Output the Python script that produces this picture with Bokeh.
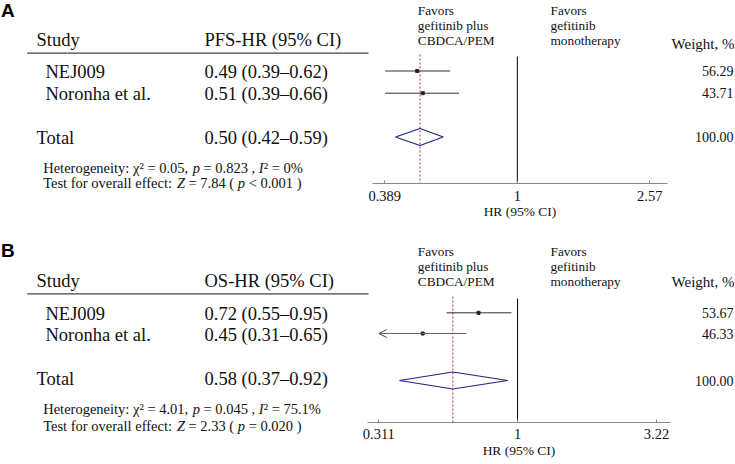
import math
from bokeh.plotting import figure
from bokeh.layouts import column
from bokeh.models import (Range1d, LogScale, LogAxis, FixedTicker,
                          CustomJSTickFormatter, ColumnDataSource, Arrow, OpenHead)
from bokeh.core.properties import value
from bokeh.embed import file_html
from bokeh.resources import INLINE

# ---------------- data ----------------
studies = ["NEJ009", "Noronha et al."]
total_label = "Total"

pfs_hr = [0.49, 0.51]
pfs_lo = [0.39, 0.39]
pfs_hi = [0.62, 0.66]
pfs_weight = [56.29, 43.71]
pfs_total = [0.50, 0.42, 0.59]
pfs_ticks = [0.389, 1, 2.57]
pfs_het = ["0.05", "0.823", "0%"]
pfs_test = ["7.84", "<", "0.001"]

os_hr = [0.72, 0.45]
os_lo = [0.55, 0.31]
os_hi = [0.95, 0.65]
os_weight = [53.67, 46.33]
os_total = [0.58, 0.37, 0.92]
os_ticks = [0.311, 1, 3.22]
os_het = ["4.01", "0.045", "75.1%"]
os_test = ["2.33", "=", "0.020"]

# ---------------- layout / style ----------------
SERIF = "Liberation Serif"
SANS = "Liberation Sans"
W = 735

ADV = {' ': 250, '(': 333, ')': 333, ',': 250, '-': 333, '.': 250, '/': 278, ':': 278,
       '<': 564, '=': 564, '%': 833, '\u00b2': 300, '\u03c7': 500,
       'a': 444, 'c': 444, 'e': 444, 'f': 333, 'g': 500, 'i': 278, 'l': 278, 'n': 500,
       'o': 500, 'r': 333, 's': 389, 't': 278, 'v': 500, 'y': 500, 'H': 722, 'T': 611}
for d in "0123456789":
    ADV[d] = 500
ITAL = {'p': 500, 'I': 333, 'Z': 556}


def tw(s, size, italic=False):
    tab = ITAL if italic else ADV
    return sum(tab.get(ch, ADV.get(ch, 500)) for ch in s) / 1000.0 * size


def fmt_ci(h, l, u):
    return f"{h:.2f} ({l:.2f}\u2013{u:.2f})"


def panel(letter, measure, hr, lo, hi, weight, tot, ticks, het, test, L):
    top, h = L["top"], L["h"]
    tmin, tmax = min(ticks), max(ticks)
    tick_px = L["tick_px"]
    ppl = (tick_px[1] - tick_px[0]) / (math.log(tmax) - math.log(tmin))
    x_one = tick_px[0] - math.log(tmin) * ppl

    def to_val(px):
        return math.exp((px - x_one) / ppl)

    p = figure(width=W, height=h, x_range=Range1d(0, W), y_range=Range1d(top + h, top),
               output_backend="svg", toolbar_location=None, x_axis_location=None,
               y_axis_location=None, min_border=0)
    p.xgrid.grid_line_color = None
    p.ygrid.grid_line_color = None
    p.outline_line_color = None
    p.background_fill_color = "white"
    p.border_fill_color = "white"
    p.extra_x_ranges = {"hr": Range1d(to_val(0), to_val(W))}
    p.extra_x_scales = {"hr": LogScale()}

    axis_y = L["axis_y"]
    bpx = L["bound_px"]
    ax = LogAxis(x_range_name="hr", ticker=FixedTicker(ticks=ticks),
                 formatter=CustomJSTickFormatter(code="return tick.toString()"),
                 bounds=(to_val(bpx[0]), to_val(bpx[1])), axis_label="HR (95% CI)",
                 fixed_location=axis_y)
    ax.axis_line_color = "#8a8a8a"
    ax.major_tick_line_color = "#8a8a8a"
    ax.major_tick_in = 3
    ax.major_tick_out = 0
    ax.minor_tick_line_color = None
    ax.major_label_text_font = SERIF
    ax.major_label_text_font_size = "14.5px"
    ax.major_label_text_color = "#111"
    ax.major_label_standoff = 7
    ax.axis_label_text_font = SERIF
    ax.axis_label_text_font_size = "13.5px"
    ax.axis_label_text_font_style = "normal"
    ax.axis_label_text_color = "#111"
    ax.axis_label_standoff = 0
    p.add_layout(ax, "below")

    # ---- left table ----
    p.text(x=[0.5], y=[L["letter_y"]], text=[letter], text_font=value(SANS), text_font_style="bold",
           text_font_size="19px", text_baseline="middle", text_align="left", text_color="black")
    fsz = "18.5px"
    p.text(x=[36, 204], y=[L["head_y"]] * 2, text=["Study", measure], text_font=value(SERIF),
           text_font_size=fsz, text_baseline="middle", text_align="left", text_color="#111")
    p.segment(x0=[26.7], y0=[L["line_y"]], x1=[368], y1=[L["line_y"]], line_color="#444",
              line_width=1.3)
    names = studies + [total_label]
    name_x = [45] * len(studies) + [36]
    p.text(x=name_x, y=L["text_rows"], text=names, text_font=value(SERIF), text_font_size=fsz,
           text_baseline="middle", text_align="left", text_color="#111")
    vals = [fmt_ci(a, b, c) for a, b, c in zip(hr, lo, hi)] + [fmt_ci(*tot)]
    p.text(x=[204] * len(vals), y=L["text_rows"], text=vals, text_font=value(SERIF),
           text_font_size=fsz, text_baseline="middle", text_align="left", text_color="#111")

    fs = 14.5
    het_segs = [("Heterogeneity: \u03c7\u00b2 = " + het[0] + ", ", False), ("p", True),
                (" = " + het[1] + " , ", False), ("I", True), ("\u00b2 = " + het[2], False)]
    test_segs = [("Test for overall effect: ", False), ("Z", True), (" = " + test[0] + " ( ", False),
                 ("p", True), (" " + test[1] + " " + test[2] + " )", False)]
    for segs, yy in ((het_segs, L["het_y"]), (test_segs, L["test_y"])):
        x = 42.7
        nx, ny, nt, ix, iy, it = [], [], [], [], [], []
        for s, ital in segs:
            stripped = s.lstrip(" ")
            x += tw(s[:len(s) - len(stripped)], fs)
            if ital:
                ix.append(x); iy.append(yy); it.append(stripped)
            else:
                nx.append(x); ny.append(yy); nt.append(stripped.rstrip(" "))
            x += tw(stripped, fs, ital)
        p.text(x=nx, y=ny, text=nt, text_font=value(SERIF), text_font_size=f"{fs}px",
               text_baseline="middle", text_align="left", text_color="#111")
        p.text(x=ix, y=iy, text=it, text_font=value(SERIF), text_font_size=f"{fs}px",
               text_font_style="italic", text_baseline="middle", text_align="left", text_color="#111")

    # ---- forest ----
    rows_y = L["rows"]
    vt = L["vline_top"]
    p.segment(x0=[1], y0=[vt], x1=[1], y1=[axis_y], x_range_name="hr",
              line_color="black", line_width=1)
    p.segment(x0=[tot[0]], y0=[vt - 2], x1=[tot[0]], y1=[axis_y], x_range_name="hr",
              line_color="#b03048", line_width=1, line_dash="2 2")

    n = len(hr)
    for i in range(n):
        y = rows_y[i]
        if lo[i] < tmin:
            src = ColumnDataSource(dict(xs=[hi[i]], xe=[tmin], y=[y]))
            p.add_layout(Arrow(end=OpenHead(size=8, line_color="#444", line_width=1),
                               x_start="xs", y_start="y", x_end="xe", y_end="y", source=src,
                               x_range_name="hr", line_color="#666", line_width=1))
        else:
            p.segment(x0=[lo[i]], y0=[y], x1=[hi[i]], y1=[y], x_range_name="hr",
                      line_color="#333", line_width=1)
    p.scatter(x=hr, y=rows_y[:n], marker="square", size=3, x_range_name="hr", color="#222")

    yt = rows_y[n]
    dh = 8.5
    p.patch(x=[tot[1], tot[0], tot[2], tot[0]], y=[yt, yt - dh, yt, yt + dh], x_range_name="hr",
            fill_alpha=0, line_color="#22228a", line_width=1.2)

    fy = L["favors_y"]
    p.text(x=[417.3, 550], y=[fy, fy],
           text=["Favors\ngefitinib plus\nCBDCA/PEM", "Favors\ngefitinib\nmonotherapy"],
           text_font=value(SERIF), text_font_size="13.3px", text_line_height=1.0,
           text_baseline="middle", text_align="left", text_color="#111")
    p.text(x=[734], y=[L["weight_head_y"]], text=["Weight, %"], text_font=value(SERIF),
           text_font_size="15px", text_baseline="middle", text_align="right", text_color="#111")
    wtxt = [f"{w:.2f}" for w in weight] + [f"{sum(weight):.2f}"]
    p.text(x=[733] * len(wtxt), y=rows_y, text=wtxt, text_font=value(SERIF),
           text_font_size="14px", text_baseline="middle", text_align="right", text_color="#111")
    return p


LA = dict(top=0, h=230, axis_y=183.3, tick_px=(384.3, 649.3), bound_px=(371.7, 666.7),
          letter_y=10, head_y=39.5, line_y=52.7, text_rows=[71, 93.5, 137.5],
          het_y=167.5, test_y=182.5, rows=[70.5, 92.7, 136.5], vline_top=56,
          favors_y=25, weight_head_y=43)
LB = dict(top=230, h=234, axis_y=421.7, tick_px=(378.3, 656), bound_px=(366.7, 670),
          letter_y=250, head_y=280.5, line_y=293.3, text_rows=[313, 334.5, 378.5],
          het_y=408.3, test_y=425, rows=[312.3, 333, 380], vline_top=298,
          favors_y=266, weight_head_y=281.7)

pa = panel("A", "PFS-HR (95% CI)", pfs_hr, pfs_lo, pfs_hi, pfs_weight, pfs_total, pfs_ticks,
           pfs_het, pfs_test, LA)
pb = panel("B", "OS-HR (95% CI)", os_hr, os_lo, os_hi, os_weight, os_total, os_ticks,
           os_het, os_test, LB)

layout = column(pa, pb, spacing=0)

with open("out.html", "w") as f:
    f.write(file_html(layout, INLINE))
